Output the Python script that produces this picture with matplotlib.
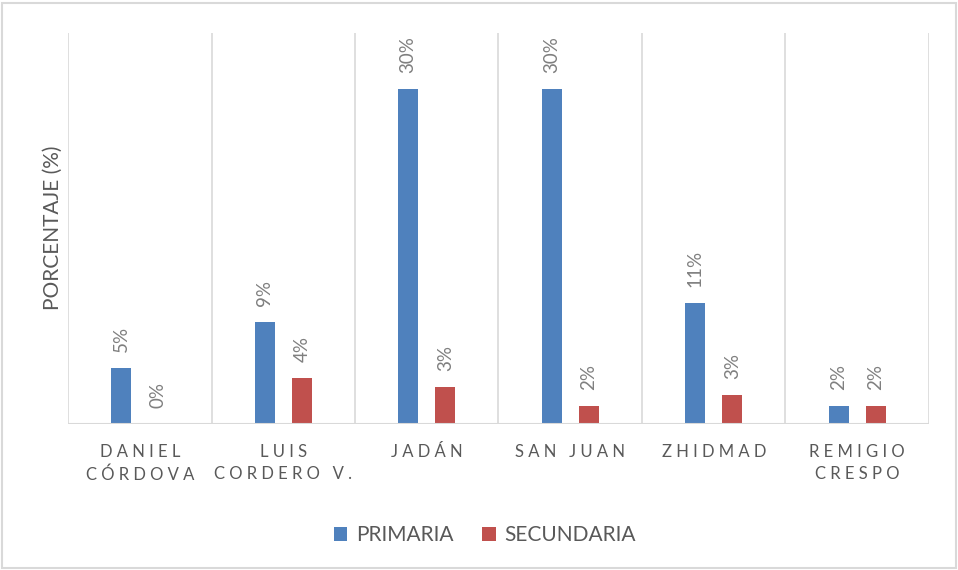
import matplotlib.pyplot as plt
import matplotlib.patches as mpatches
import numpy as np

categorias = ["DANIEL\nCÓRDOVA", "LUIS\nCORDERO V.", "JADÁN", "SAN JUAN", "ZHIDMAD", "REMIGIO\nCRESPO"]
primaria = [0.050, 0.091, 0.300, 0.300, 0.108, 0.016]
secundaria = [0.000, 0.041, 0.033, 0.016, 0.026, 0.016]
series = ["PRIMARIA", "SECUNDARIA"]

azul = "#4f81bd"
rojo = "#c0504d"
gris_linea = "#d9d9d9"

plt.rcParams['font.family'] = ['Lato', 'DejaVu Sans']


def espaciado(texto):
    # imita el espaciado entre letras de Excel
    lineas = []
    for linea in texto.split("\n"):
        palabras = [" ".join(p) for p in linea.split(" ")]
        lineas.append("   ".join(palabras))
    return "\n".join(lineas)


fig = plt.figure(figsize=(9.58, 5.70), dpi=100)
ax = fig.add_axes([0.071, 0.256, 0.8987, 0.686])

x = np.arange(len(categorias))
ancho = 0.14
sep = 0.13
b1 = ax.bar(x - sep, primaria, ancho, color=azul, label=series[0], zorder=3)
b2 = ax.bar(x + sep, secundaria, ancho, color=rojo, label=series[1], zorder=3)

for barras, valores in [(b1, primaria), (b2, secundaria)]:
    for rect, v in zip(barras, valores):
        ax.annotate(f"{v:.0%}", (rect.get_x() + rect.get_width() / 2, v),
                    xytext=(0, 11.5), textcoords="offset points",
                    rotation=90, ha="center", va="bottom",
                    fontsize=13.5, color="#7f7f7f")

ax.set_xlim(-0.5, len(categorias) - 0.5)
ax.set_ylim(0, 0.35)
ax.vlines(np.arange(len(categorias) + 1) - 0.5, 0, 0.35, color=gris_linea, lw=1.2, zorder=1)
ax.axhline(0, color=gris_linea, lw=1.5, zorder=4)
for s in ax.spines.values():
    s.set_visible(False)
ax.set_yticks([])
ax.set_xticks(x)
ax.set_xticklabels([espaciado(c) for c in categorias], fontsize=12, color="#595959",
                   linespacing=1.5, va="top")
ax.tick_params(axis="x", length=0, pad=14)

fig.text(0.055, 0.6, "PORCENTAJE (%)", rotation=90, ha="center", va="center",
         fontsize=15, color="#595959")

ax.legend(loc="upper center", bbox_to_anchor=(0.484, -0.21), ncol=2, frameon=False,
          fontsize=15, labelcolor="#595959", handlelength=0.65, handleheight=0.65,
          handletextpad=0.4, columnspacing=1.4)

fig.patches.append(mpatches.Rectangle((0.002, 0.004), 0.996, 0.99, transform=fig.transFigure,
                                      fill=False, edgecolor=gris_linea, lw=1.5))

fig.savefig("out.png", dpi=100)
